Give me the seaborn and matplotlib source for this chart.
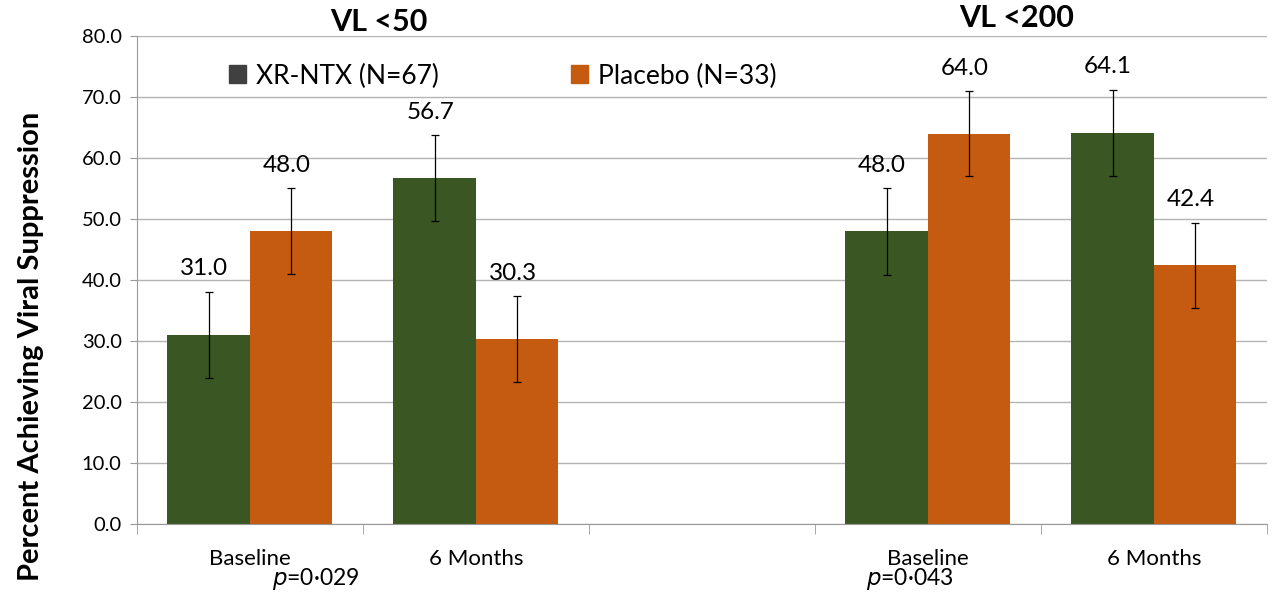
import seaborn as sns
import pandas as pd
import matplotlib.pyplot as plt
from matplotlib.patches import Patch
from matplotlib.ticker import FixedLocator

# slots along the x axis (third one is an empty spacer between the two panels)
slots = ["vl50_base", "vl50_6m", "gap", "vl200_base", "vl200_6m"]
slot_labels = ["Baseline", "6 Months", "", "Baseline", "6 Months"]
data_slots = ["vl50_base", "vl50_6m", "vl200_base", "vl200_6m"]

xr_ntx = [31.0, 56.7, 48.0, 64.1]
placebo = [48.0, 30.3, 64.0, 42.4]
xr_err = [7.1, 7.1, 7.1, 7.1]
pl_err = [7.0, 7.0, 7.0, 7.0]

groups = ["XR-NTX (N=67)", "Placebo (N=33)"]
colors = {"XR-NTX (N=67)": "#3A5622", "Placebo (N=33)": "#C55A11"}

df = pd.DataFrame({
    "slot": data_slots * 2,
    "group": [groups[0]] * 4 + [groups[1]] * 4,
    "value": xr_ntx + placebo,
    "err": xr_err + pl_err,
})

plt.rcParams["font.family"] = ["Lato", "DejaVu Sans"]

fig = plt.figure(figsize=(12.74, 5.96), dpi=100)
ax = fig.add_axes([0.1075, 0.1208, 0.887, 0.8188])

sns.barplot(data=df, x="slot", y="value", hue="group", order=slots,
            hue_order=groups, palette=colors, width=0.73, saturation=1,
            errorbar=None, legend=False, ax=ax)

# error bars and value labels on top of the seaborn bars
for cont, g in zip(ax.containers, groups):
    sub = df[df.group == g]
    for bar in cont:
        h = bar.get_height()
        if pd.isna(h) or h == 0:
            continue
        xc = bar.get_x() + bar.get_width() / 2
        row = sub[sub.value == round(h, 1)].iloc[0]
        ax.errorbar(xc, h, yerr=row.err, color="black", lw=0.9,
                    capsize=3, capthick=0.9, zorder=5)
        ax.text(xc - 0.02, h + row.err + 2.0, f"{h:.1f}", ha="center",
                va="bottom", fontsize=17.5, color="black")

ax.set_ylim(0, 80)
ax.set_xlim(-0.5, len(slots) - 0.5)
ax.set_yticks(range(0, 81, 10))
ax.set_yticklabels([f"{v:.1f}" for v in range(0, 81, 10)], fontsize=14.5)
ax.set_xticks(range(len(slots)))
ax.set_xticklabels(slot_labels, fontsize=16)
ax.tick_params(axis="x", length=0, pad=18)
ax.tick_params(axis="y", length=5, color="#999999", pad=6)
ax.xaxis.set_minor_locator(FixedLocator([i - 0.5 for i in range(len(slots) + 1)]))
ax.tick_params(axis="x", which="minor", length=7, color="#999999")
ax.set_xlabel("")
ax.set_ylabel("")
fig.text(31 / 1274, 1 - 346 / 596, "Percent Achieving Viral Suppression",
         rotation=90, ha="center", va="center", fontsize=21, fontweight="bold")

ax.grid(axis="y", color="#b3b3b3", lw=1)
ax.set_axisbelow(True)
for side in ["top", "right"]:
    ax.spines[side].set_visible(False)
for side in ["left", "bottom"]:
    ax.spines[side].set_color("#999999")

# panel headers
ax.text(0.57, 82.3, "VL <50", ha="center", va="center", fontsize=22,
        fontweight="bold")
ax.text(3.39, 82.95, "VL <200", ha="center", va="center", fontsize=22,
        fontweight="bold")

# p values under the axis
ax.text(0.29, -0.087, "$p$=0·029", transform=ax.get_xaxis_transform(),
        ha="center", va="top", fontsize=16.5)
ax.text(2.92, -0.087, "$p$=0·043", transform=ax.get_xaxis_transform(),
        ha="center", va="top", fontsize=16.5)

handles = [Patch(color="#404040"), Patch(color=colors[groups[1]])]
fig.legend(handles, groups, ncol=2, frameon=False, fontsize=19,
           loc="center left", bbox_to_anchor=(229 / 1274, 1 - 76 / 596),
           borderaxespad=0, borderpad=0,
           handlelength=0.65, handleheight=0.65, handletextpad=0.38,
           columnspacing=5.0)

fig.savefig("out.png", dpi=100)
